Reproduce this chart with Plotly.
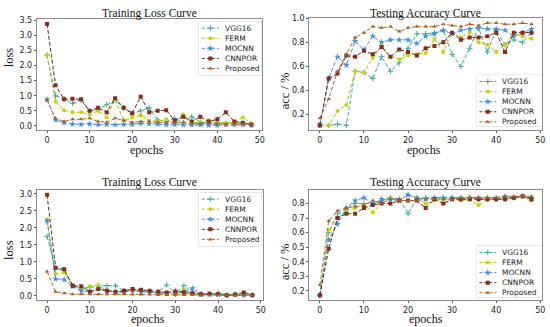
import plotly.graph_objects as go

epochs = list(range(0, 50, 2))
names = ["VGG16", "FERM", "MOCNN", "CNNPOR", "Proposed"]

# Panel 1: top-left training loss
loss1_vgg16 = [2.35, 1.0, 0.9, 0.75, 0.85, 0.48, 0.55, 0.7, 0.85, 0.6, 0.4, 0.5, 0.6, 0.2, 0.15, 0.25, 0.1, 0.3, 0.12, 0.1, 0.1, 0.08, 0.08, 0.1, 0.05]
loss1_ferm = [2.35, 0.8, 0.52, 0.45, 0.45, 0.38, 0.5, 0.28, 0.88, 0.18, 0.28, 0.35, 0.18, 0.15, 0.22, 0.1, 0.38, 0.1, 0.12, 0.2, 0.12, 0.1, 0.1, 0.28, 0.08]
loss1_mocnn = [0.88, 0.2, 0.1, 0.06, 0.05, 0.07, 0.04, 0.05, 0.04, 0.05, 0.05, 0.08, 0.07, 0.05, 0.04, 0.04, 0.03, 0.03, 0.03, 0.02, 0.02, 0.03, 0.03, 0.03, 0.02]
loss1_cnnpor = [3.38, 1.35, 0.88, 0.9, 0.88, 0.5, 0.6, 0.45, 0.92, 0.6, 0.42, 0.97, 0.45, 0.5, 0.52, 0.18, 0.3, 0.15, 0.3, 0.15, 0.22, 0.45, 0.15, 0.1, 0.05]
loss1_proposed = [0.85, 0.25, 0.15, 0.22, 0.22, 0.25, 0.15, 0.12, 0.25, 0.18, 0.12, 0.15, 0.15, 0.12, 0.1, 0.1, 0.12, 0.08, 0.08, 0.08, 0.07, 0.06, 0.06, 0.06, 0.05]

# Panel 2: top-right testing accuracy
acc1_vgg16 = [0.11, 0.11, 0.12, 0.11, 0.56, 0.55, 0.5, 0.68, 0.56, 0.63, 0.75, 0.87, 0.87, 0.88, 0.9, 0.7, 0.6, 0.75, 0.92, 0.72, 0.9, 0.78, 0.82, 0.8, 0.88]
acc1_ferm = [0.11, 0.11, 0.23, 0.28, 0.56, 0.55, 0.67, 0.77, 0.68, 0.66, 0.69, 0.7, 0.71, 0.83, 0.72, 0.88, 0.84, 0.88, 0.8, 0.78, 0.72, 0.78, 0.88, 0.85, 0.83]
acc1_mocnn = [0.12, 0.5, 0.68, 0.61, 0.81, 0.74, 0.85, 0.8, 0.82, 0.82, 0.82, 0.79, 0.85, 0.87, 0.9, 0.87, 0.9, 0.91, 0.92, 0.91, 0.91, 0.9, 0.85, 0.88, 0.91]
acc1_cnnpor = [0.11, 0.5, 0.54, 0.69, 0.68, 0.73, 0.7, 0.76, 0.68, 0.74, 0.72, 0.69, 0.75, 0.77, 0.8, 0.88, 0.82, 0.84, 0.84, 0.85, 0.88, 0.72, 0.88, 0.88, 0.88]
acc1_proposed = [0.17, 0.33, 0.56, 0.7, 0.84, 0.88, 0.93, 0.92, 0.93, 0.89, 0.92, 0.93, 0.93, 0.93, 0.95, 0.94, 0.93, 0.95, 0.94, 0.96, 0.96, 0.95, 0.95, 0.96, 0.95]

# Panel 3: bottom-left training loss
loss2_vgg16 = [1.75, 0.8, 0.75, 0.3, 0.2, 0.25, 0.3, 0.3, 0.3, 0.15, 0.15, 0.15, 0.12, 0.12, 0.32, 0.05, 0.3, 0.1, 0.05, 0.05, 0.08, 0.03, 0.05, 0.02, 0.02]
loss2_ferm = [2.25, 0.65, 0.68, 0.3, 0.22, 0.28, 0.32, 0.15, 0.12, 0.15, 0.18, 0.15, 0.12, 0.1, 0.05, 0.05, 0.18, 0.05, 0.03, 0.05, 0.05, 0.02, 0.05, 0.03, 0.02]
loss2_mocnn = [2.2, 0.5, 0.48, 0.28, 0.15, 0.12, 0.2, 0.15, 0.1, 0.12, 0.15, 0.12, 0.1, 0.08, 0.08, 0.15, 0.12, 0.22, 0.05, 0.05, 0.05, 0.02, 0.03, 0.03, 0.02]
loss2_cnnpor = [2.97, 0.83, 0.78, 0.3, 0.28, 0.12, 0.2, 0.15, 0.12, 0.15, 0.2, 0.18, 0.15, 0.12, 0.1, 0.12, 0.1, 0.08, 0.05, 0.06, 0.05, 0.02, 0.04, 0.1, 0.03]
loss2_proposed = [0.72, 0.12, 0.08, 0.05, 0.05, 0.05, 0.05, 0.05, 0.05, 0.05, 0.04, 0.04, 0.04, 0.03, 0.03, 0.03, 0.03, 0.03, 0.02, 0.02, 0.02, 0.02, 0.02, 0.02, 0.02]

# Panel 4: bottom-right testing accuracy
acc2_vgg16 = [0.17, 0.6, 0.73, 0.76, 0.8, 0.8, 0.8, 0.82, 0.84, 0.83, 0.73, 0.83, 0.84, 0.84, 0.84, 0.84, 0.83, 0.84, 0.83, 0.83, 0.83, 0.83, 0.84, 0.85, 0.84]
acc2_ferm = [0.17, 0.62, 0.7, 0.74, 0.77, 0.79, 0.74, 0.8, 0.84, 0.82, 0.86, 0.84, 0.8, 0.82, 0.83, 0.83, 0.82, 0.83, 0.79, 0.83, 0.83, 0.84, 0.84, 0.85, 0.82]
acc2_mocnn = [0.17, 0.55, 0.66, 0.77, 0.82, 0.84, 0.8, 0.83, 0.83, 0.82, 0.86, 0.84, 0.83, 0.84, 0.84, 0.84, 0.84, 0.84, 0.84, 0.84, 0.84, 0.85, 0.84, 0.85, 0.83]
acc2_cnnpor = [0.17, 0.49, 0.7, 0.73, 0.73, 0.77, 0.79, 0.8, 0.8, 0.82, 0.82, 0.82, 0.77, 0.83, 0.8, 0.83, 0.83, 0.83, 0.83, 0.83, 0.83, 0.83, 0.84, 0.85, 0.83]
acc2_proposed = [0.24, 0.68, 0.75, 0.77, 0.78, 0.79, 0.82, 0.8, 0.83, 0.82, 0.82, 0.82, 0.83, 0.83, 0.83, 0.83, 0.84, 0.84, 0.84, 0.84, 0.84, 0.85, 0.85, 0.85, 0.85]

panels = [
    [loss1_vgg16, loss1_ferm, loss1_mocnn, loss1_cnnpor, loss1_proposed],
    [acc1_vgg16, acc1_ferm, acc1_mocnn, acc1_cnnpor, acc1_proposed],
    [loss2_vgg16, loss2_ferm, loss2_mocnn, loss2_cnnpor, loss2_proposed],
    [acc2_vgg16, acc2_ferm, acc2_mocnn, acc2_cnnpor, acc2_proposed],
]
titles = ["Training Loss Curve", "Testing Accuracy Curve", "Training Loss Curve", "Testing Accuracy Curve"]
ylabels = ["loss", "acc / %", "loss", "acc / %"]
xticks = [0, 10, 20, 30, 40, 50]

line_colors = ["#3aa898", "#b5c400", "#3f8fe0", "#5a2b1c", "#b06a28"]
marker_colors = ["#3aa898", "#c8d400", "#3f8fe0", "#8a2a1e", "#a86020"]
symbols = ["cross-thin", "circle", "star", "square", "triangle-up"]

W, H = 550, 327
# plot-area boxes in pixels (left, right, top, bottom)
boxes = [(37, 263, 15, 128), (311, 545, 14, 128), (37, 264, 188, 300), (311, 545, 188, 300)]
# legend boxes in pixels
leg_boxes = [(200, 263, 18, 72), (479, 545, 72, 124), (200, 263, 191, 245), (479, 545, 245, 297)]
# axis-title positions in pixels
xt_pos = [(148, 148), (426, 148), (149, 319), (428, 319)]
yt_pos = [(9, 54), (286, 88), (9, 249), (286, 261)]
title_y = [10, 10, 181, 181]
yranges = [[-0.15, 3.55], [0.068, 1.003], [-0.13, 3.12], [0.135, 0.895]]
ydticks = [0.5, 0.2, 0.5, 0.1]


def px(x):
    return x / W


def py(y):
    return 1 - y / H


fig = go.Figure()
shapes = []
annotations = []
layout = dict(width=W, height=H, margin=dict(l=0, r=0, t=0, b=0),
              paper_bgcolor="white", plot_bgcolor="white", showlegend=False)

for p in range(4):
    sx = "" if p == 0 else str(p + 1)
    xa, ya = "x" + sx, "y" + sx
    for i, nm in enumerate(names):
        fig.add_trace(go.Scatter(
            x=epochs, y=panels[p][i], name=nm, mode="lines+markers",
            xaxis=xa, yaxis=ya,
            line=dict(color=line_colors[i], width=1, dash="4px,2px"),
            marker=dict(symbol=symbols[i], size=4 if i != 2 else 5,
                        color=marker_colors[i],
                        line=dict(width=1, color=marker_colors[i]) if i == 0 else dict(width=0)),
        ))
    l, r, t, b = boxes[p]
    common = dict(showgrid=False, zeroline=False, showline=True, mirror=True,
                  linecolor="#8c8c8c", linewidth=1, ticks="outside", ticklen=2,
                  tickcolor="#555", tickfont=dict(family="DejaVu Sans", size=8, color="#222"))
    layout["xaxis" + sx] = dict(domain=[px(l), px(r)], range=[-2.4, 50.4], anchor=ya,
                                tickvals=xticks, **common)
    layout["yaxis" + sx] = dict(domain=[py(b), py(t)], range=yranges[p], anchor=xa,
                                dtick=ydticks[p], tick0=0, tickformat=".1f", **common)
    annotations.append(dict(text=titles[p], x=px((l + r) / 2), y=py(title_y[p]),
                            xref="paper", yref="paper", xanchor="center", yanchor="middle",
                            showarrow=False,
                            font=dict(family="Liberation Serif", size=11.5, color="#111")))
    annotations.append(dict(text="epochs", x=px(xt_pos[p][0]), y=py(xt_pos[p][1]),
                            xref="paper", yref="paper", xanchor="center", yanchor="middle",
                            showarrow=False,
                            font=dict(family="Liberation Serif", size=12, color="#111")))
    annotations.append(dict(text=ylabels[p], x=px(yt_pos[p][0]), y=py(yt_pos[p][1]),
                            xref="paper", yref="paper", xanchor="center", yanchor="middle",
                            showarrow=False, textangle=-90,
                            font=dict(family="Liberation Serif", size=12.5, color="#111")))

    # legend drawn on its own pixel-unit axes
    ll, lr, lt, lb = leg_boxes[p]
    k = str(p + 5)
    lw, lh = lr - ll, lb - lt
    layout["xaxis" + k] = dict(domain=[px(ll), px(lr)], range=[0, lw], visible=False,
                               anchor="y" + k, fixedrange=True)
    layout["yaxis" + k] = dict(domain=[py(lb), py(lt)], range=[lh, 0], visible=False,
                               anchor="x" + k, fixedrange=True)
    shapes.append(dict(type="rect", xref="paper", yref="paper",
                       x0=px(ll), x1=px(lr), y0=py(lb), y1=py(lt),
                       line=dict(color="#d0d0d0", width=1), fillcolor="rgba(255,255,255,0.9)",
                       layer="below"))
    for i, nm in enumerate(names):
        yy = 6.5 + i * 10.2
        fig.add_trace(go.Scatter(x=[3, 20], y=[yy, yy], mode="lines", xaxis="x" + k, yaxis="y" + k,
                                 line=dict(color=line_colors[i], width=1, dash="3px,2px"),
                                 hoverinfo="skip"))
        fig.add_trace(go.Scatter(x=[11.5], y=[yy], mode="markers", xaxis="x" + k, yaxis="y" + k,
                                 marker=dict(symbol=symbols[i], size=4 if i != 2 else 5,
                                             color=marker_colors[i],
                                             line=dict(width=1, color=marker_colors[i]) if i == 0 else dict(width=0)),
                                 hoverinfo="skip"))
        annotations.append(dict(text=nm, x=24, y=yy, xref="x" + k, yref="y" + k,
                                xanchor="left", yanchor="middle", showarrow=False,
                                font=dict(family="DejaVu Sans", size=7.5, color="#222")))

layout["shapes"] = shapes
layout["annotations"] = annotations
fig.update_layout(**layout)
fig.write_html("out.html", config={"displayModeBar": False},
               post_script="document.body.style.margin='0';document.body.style.overflow='hidden';")
